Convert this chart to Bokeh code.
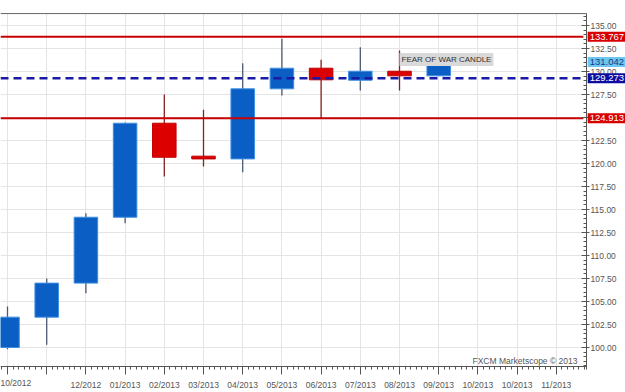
from bokeh.plotting import figure
from bokeh.models import (ColumnDataSource, Label, LinearAxis, Range1d, BoxAnnotation,
                          SingleIntervalTicker, NumeralTickFormatter)
from bokeh.embed import file_html
from bokeh.resources import INLINE

# ---- data (monthly candles) ----
months = ["10/2012", "11/2012", "12/2012", "01/2013", "02/2013", "03/2013",
          "04/2013", "05/2013", "06/2013", "07/2013", "08/2013", "09/2013"]
opens = [100.0, 103.3, 107.0, 114.16, 124.38, 120.8, 120.5, 128.12, 130.36, 129.05, 130.03, 129.53]
closes = [103.3, 107.0, 114.16, 124.38, 120.68, 120.5, 128.12, 130.36, 129.1, 130.03, 129.53, 130.8]
highs = [104.45, 107.5, 114.6, 124.45, 127.5, 125.84, 130.9, 133.55, 131.27, 132.64, 132.28, 130.85]
lows = [99.8, 100.3, 105.9, 113.5, 118.6, 119.67, 119.05, 127.4, 124.93, 127.93, 127.93, 129.5]

x_tick_labels = ["10/2012", "", "12/2012", "01/2013", "02/2013", "03/2013", "04/2013",
                 "05/2013", "06/2013", "07/2013", "08/2013", "09/2013", "10/2013",
                 "10/2013", "11/2013"]

level_red = [133.767, 124.913]
level_blue = 129.273
last_price = 131.042
annotation_text = "FEAR OF WAR CANDLE"
watermark = "FXCM Marketscope \u00a9 2013"

# ---- layout constants (data coordinates of the chart frame) ----
X0, X1 = -0.1786, 15.765        # whole canvas in x
Y0, Y1 = 95.11, 137.72          # whole canvas in y
AXIS_X = 14.77                  # price axis position
AXIS_Y = 97.935                 # time axis position
TOP_Y = 136.30                  # top border line

idx = list(range(len(months)))
up = [c >= o for o, c in zip(opens, closes)]
src = ColumnDataSource(dict(
    x=idx, open=opens, close=closes, high=highs, low=lows,
    top=[max(o, c) for o, c in zip(opens, closes)],
    bottom=[min(o, c) for o, c in zip(opens, closes)],
    fill=["#0a5ec4" if u else "#dd0000" for u in up],
    edge=["#3f8fe0" if u else "#c00000" for u in up],
    wick=["#4a5a72" if u else "#8a2020" for u in up],
))

FONT = "Liberation Sans"
GREY = "#555555"

p = figure(width=625, height=392, output_backend="svg", toolbar_location=None,
           x_range=Range1d(X0, X1), y_range=Range1d(Y0, Y1),
           y_axis_location=None, x_axis_location=None)
p.min_border = 0
p.min_border_left = 0
p.min_border_top = 0
p.min_border_right = 0
p.min_border_bottom = 0
p.background_fill_color = "white"
p.border_fill_color = "white"
p.outline_line_color = None

# grids
xticker = SingleIntervalTicker(interval=1, num_minor_ticks=7)
yticker = SingleIntervalTicker(interval=2.5, num_minor_ticks=5)
p.xgrid.ticker = xticker
p.ygrid.ticker = yticker
p.xgrid.grid_line_color = "#e4e4e4"
p.ygrid.grid_line_color = "#e4e4e4"

# white covers outside the plotting area (drawn over the grid lines)
for kw in (dict(left=AXIS_X), dict(top=AXIS_Y), dict(bottom=TOP_Y)):
    p.add_layout(BoxAnnotation(fill_color="white", fill_alpha=1, line_color=None,
                               level="underlay", **kw))

# axes (fixed location, so they take no extra room)
xaxis = LinearAxis(ticker=xticker, fixed_location=AXIS_Y, bounds=(X0, AXIS_X))
xaxis.major_label_overrides = {i: (lab if i > 0 else "") for i, lab in enumerate(x_tick_labels)}
xaxis.axis_line_color = GREY
xaxis.major_tick_line_color = GREY
xaxis.minor_tick_line_color = GREY
xaxis.major_tick_in = 0
xaxis.major_tick_out = 8
xaxis.minor_tick_in = 0
xaxis.minor_tick_out = 3
xaxis.major_label_standoff = 5
xaxis.major_label_text_font = FONT
xaxis.major_label_text_font_size = "8.5px"
xaxis.major_label_text_color = GREY
p.add_layout(xaxis, "below")

yaxis = LinearAxis(ticker=yticker, formatter=NumeralTickFormatter(format="0.00"),
                   fixed_location=AXIS_X, bounds=(97.6, TOP_Y))
yaxis.axis_line_color = GREY
yaxis.major_tick_line_color = GREY
yaxis.minor_tick_line_color = GREY
yaxis.major_tick_in = 5
yaxis.major_tick_out = 3
yaxis.minor_tick_in = 3
yaxis.minor_tick_out = 0
yaxis.major_label_standoff = 1
yaxis.major_label_text_font = FONT
yaxis.major_label_text_font_size = "8.5px"
yaxis.major_label_text_color = GREY
p.add_layout(yaxis, "right")

# top border line
p.segment(x0=[X0], y0=[TOP_Y], x1=[AXIS_X], y1=[TOP_Y], line_color="#666666", line_width=1)

# candles
p.segment(x0="x", y0="low", x1="x", y1="high", line_color="wick", line_width=1.3, source=src)
p.vbar(x="x", width=0.6, top="top", bottom="bottom", fill_color="fill",
       line_color="edge", line_width=1, source=src)

# level lines
p.segment(x0=[X0] * len(level_red), y0=level_red, x1=[AXIS_X - 0.08] * len(level_red),
          y1=level_red, line_color="#c80000", line_width=2)
p.segment(x0=[X0], y0=[level_blue], x1=[AXIS_X - 0.08], y1=[level_blue],
          line_color="#1a1aa8", line_width=2.5, line_dash="8 5")

# price boxes on the right
xr = AXIS_X + 0.03
def price_box(val, bg, fg):
    p.add_layout(Label(x=xr, y=val, text=f"{val:.3f}", text_baseline="middle",
                       text_align="left", text_font=FONT, text_font_size="9.5px",
                       text_color=fg, background_fill_color=bg, padding=2))

price_box(level_red[0], "#d80000", "white")
price_box(last_price, "#6cc6ef", "#1a3a8a")
price_box(level_blue, "#0c0ca0", "white")
price_box(level_red[1], "#d80000", "white")

# annotation
p.add_layout(Label(x=10.0, y=131.3, text=annotation_text, text_baseline="middle",
                   text_align="left", text_font=FONT, text_font_size="8px",
                   text_color="#333333", background_fill_color="#d9d9d9", padding=2))

# watermark
p.add_layout(Label(x=14.54, y=98.48, text=watermark, text_baseline="middle",
                   text_align="right", text_font=FONT, text_font_size="8.5px",
                   text_color=GREY))

# first time label (left-aligned against the edge)
p.add_layout(Label(x=X0, y=96.09, text=x_tick_labels[0], text_baseline="middle",
                   text_align="left", text_font=FONT, text_font_size="8.5px",
                   text_color=GREY))

open("out.html", "w").write(file_html(p, INLINE))
